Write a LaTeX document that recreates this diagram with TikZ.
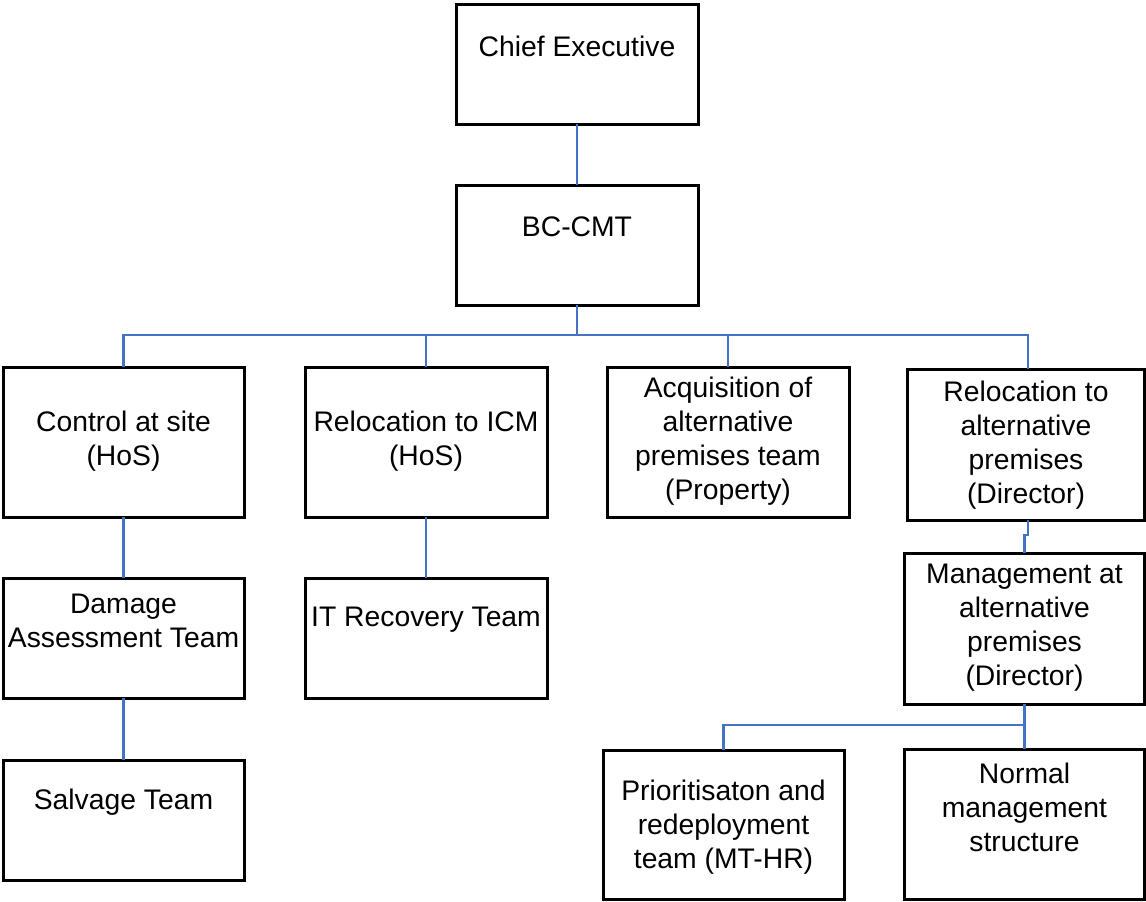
\documentclass[tikz,border=0pt]{standalone}
\usepackage{fontspec}
\setmainfont{Liberation Sans}
\definecolor{connblue}{HTML}{4472C4}
\begin{document}
\begin{tikzpicture}[x=1pt,y=-1pt,
  box/.style={draw=black, line width=3pt, rectangle, inner sep=0pt, outer sep=0pt, fill=white},
  txt/.style={align=center, inner sep=0pt, font=\fontsize{28.3}{34}\selectfont},
  conn/.style={draw=connblue, line width=2.6pt}]
\useasboundingbox[fill=white] (0,0) rectangle (1146,902);
% boxes
\node[box, minimum width=242pt, minimum height=120pt] (ce) at (577,64) {};
\node[box, minimum width=242pt, minimum height=120pt] (bc) at (577,245) {};
\node[box, minimum width=241pt, minimum height=150pt] (cs) at (123.5,442) {};
\node[box, minimum width=242pt, minimum height=150pt] (ri) at (426,442) {};
\node[box, minimum width=242pt, minimum height=150pt] (aq) at (728,442) {};
\node[box, minimum width=237.5pt, minimum height=151pt] (ra) at (1025.75,444.5) {};
\node[box, minimum width=241pt, minimum height=120pt] (da) at (123.5,638) {};
\node[box, minimum width=242pt, minimum height=120pt] (it) at (426,638) {};
\node[box, minimum width=241pt, minimum height=120pt] (sv) at (123.5,820) {};
\node[box, minimum width=240.5pt, minimum height=151pt] (ma) at (1024.25,628.5) {};
\node[box, minimum width=241pt, minimum height=149pt] (pr) at (723.5,824.5) {};
\node[box, minimum width=240.5pt, minimum height=150pt] (nm) at (1024.25,824) {};
% texts
\node[txt] (ce-t) at (577,46) {Chief Executive};
\node[txt] (bc-t) at (577,227) {BC-CMT};
\node[txt] (cs-t) at (123.5,441) {Control at site\\(HoS)};
\node[txt] (ri-t) at (426,441) {Relocation to ICM\\(HoS)};
\node[txt] (aq-t) at (728,441) {Acquisition of\\alternative\\premises team\\ (Property)};
\node[txt] (ra-t) at (1026,445) {Relocation to\\alternative\\premises\\ (Director)};
\node[txt] (da-t) at (123.5,621) {Damage\\Assessment Team};
\node[txt] (it-t) at (426,620) {IT Recovery Team};
\node[txt] (sv-t) at (123.5,802) {Salvage Team};
\node[txt] (ma-t) at (1024.5,628) {Management at\\alternative\\premises\\(Director)};
\node[txt] (pr-t) at (723.5,827) {Prioritisaton and\\redeployment\\team (MT-HR)};
\node[txt] (nm-t) at (1024.5,807) {Normal\\management\\structure};
% connectors
\draw[conn] (ce.south) -- (bc.north);
\draw[conn] (bc.south) -- ++(0,30) coordinate (bj);
\draw[conn] (cs.north) |- (bj) -| ([xshift=2.25pt]ra.north);
\draw[conn] (ri.north) -- (ri.north |- bj);
\draw[conn] (aq.north) -- (aq.north |- bj);
\draw[conn] (cs.south) -- (da.north);
\draw[conn] (ri.south) -- (it.north);
\draw[conn] (da.south) -- (sv.north);
\draw[conn] ([xshift=2.25pt]ra.south) -- ++(0,15) -| (ma.north);
\draw[conn] (ma.south) -- (nm.north);
\draw[conn] (pr.north) -- ++(0,-25) -| (ma.south);
\end{tikzpicture}
\end{document}
